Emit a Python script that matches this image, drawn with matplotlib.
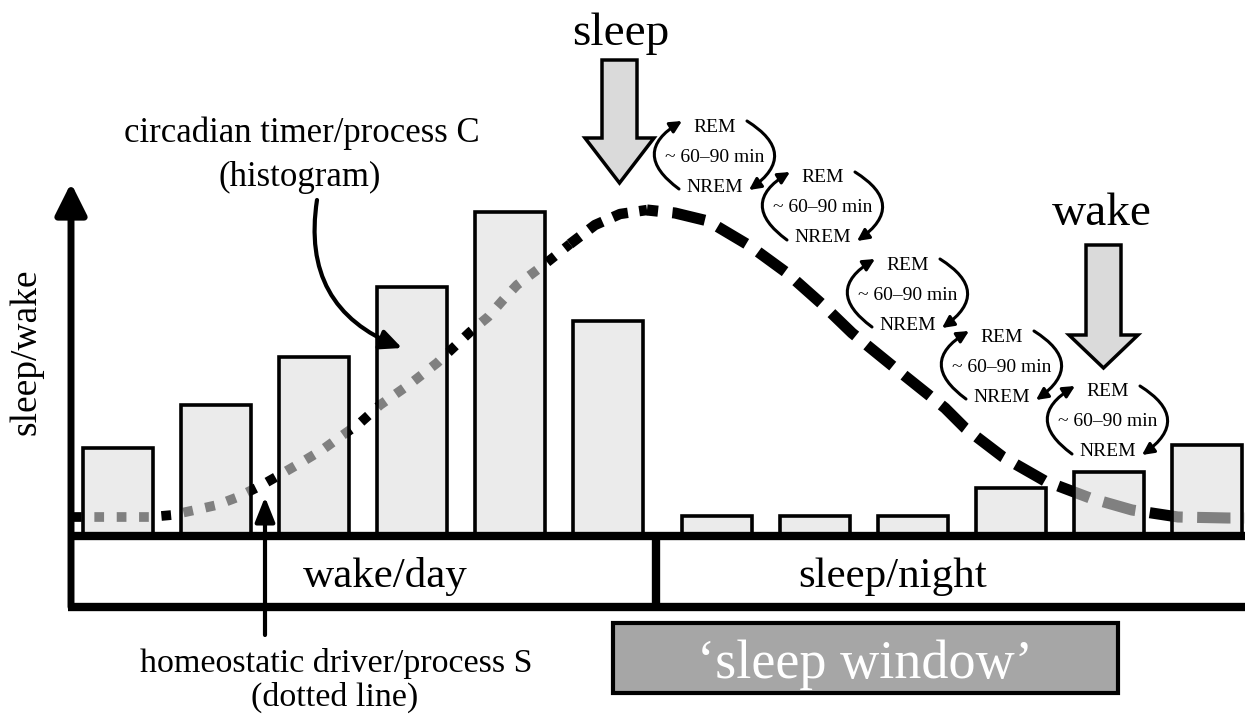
import matplotlib
matplotlib.use('Agg')
import matplotlib.pyplot as plt
from matplotlib.patches import Rectangle, FancyArrow
import numpy as np

plt.rcParams['font.family'] = ['Liberation Serif', 'DejaVu Serif']

# histogram (process C): bar centres and heights above the baseline
bar_x = [117.5, 216, 314, 412, 510, 608, 716.5, 814.5, 912.5, 1010.5, 1108.5, 1206.5]
bar_h = [88, 131, 179, 249, 324, 215, 20, 20, 20, 48, 64, 91]
bar_w = 70

# process S curve
curve_x = [72, 97, 150, 172, 195, 217, 238, 262, 283, 302, 322, 340, 360, 380, 410,
           437, 453, 470, 488, 503, 517, 545, 570, 595, 620, 647, 675, 708, 750, 787,
           823, 852, 900, 945, 965, 1003, 1045, 1090, 1132, 1178, 1228, 1245]
curve_y = [19, 19, 19, 21, 26, 31, 39, 51, 63, 74, 86, 99, 113, 131, 152,
           173, 188, 204, 219, 236, 251, 272, 292, 311, 322, 326, 323, 315, 290, 263,
           231, 203, 164, 128, 108, 79, 55, 38, 26, 19, 18, 18]

# REM/NREM cycle labels (centre of the middle line)
cycle_x = [715, 823, 908, 1002, 1108]
cycle_y = [379, 328, 241, 169, 114]

fig = plt.figure(figsize=(12.45, 7.19), dpi=100)
ax = fig.add_axes([0, 0, 1, 1])
ax.set_xlim(0, 1245)
ax.set_ylim(-183, 536)
ax.axis('off')

cx = np.array(curve_x)
cy = np.array(curve_y)

# dotted / dashed curve, split in three parts
m1 = cx <= 570
m2 = (cx >= 570) & (cx <= 647)
m3 = cx >= 647
ax.plot(cx[m1], cy[m1], color='black', lw=7, linestyle=(0, (1, 1.3)),
        dash_capstyle='butt', zorder=2)
ax.plot(cx[m2], cy[m2], color='black', lw=7.5, linestyle=(0.3, (1.5, 1.1)),
        dash_capstyle='butt', zorder=2)
ax.plot(cx[m3], cy[m3], color='black', lw=8, linestyle=(2.0, (3, 1.3)),
        dash_capstyle='butt', zorder=2)

# translucent bars on top of the curve
ax.bar(bar_x, bar_h, width=bar_w, bottom=0, facecolor=(0.87, 0.87, 0.87, 0.58),
       edgecolor='black', linewidth=2.6, zorder=3)

# y axis with arrow
ax.annotate('', xy=(71, 353), xytext=(71, -71),
            arrowprops=dict(arrowstyle='-|>,head_length=1.9,head_width=0.95',
                            lw=5, color='black', shrinkA=0, shrinkB=0,
                            mutation_scale=10), zorder=6)

# bottom day/night box
ax.plot([68, 1245], [0, 0], color='black', lw=6, zorder=4, solid_capstyle='butt')
ax.plot([68, 1245], [-71, -71], color='black', lw=6, zorder=4, solid_capstyle='butt')
ax.plot([656, 656], [0, -71], color='black', lw=6, zorder=4, solid_capstyle='butt')
ax.text(385, -51, 'wake/day', fontsize=31, ha='center', va='baseline')
ax.text(893, -51, 'sleep/night', fontsize=31, ha='center', va='baseline')

ax.text(26, 184, 'sleep/wake', fontsize=27, rotation=90, ha='center', va='center')

# sleep / wake arrows
for ax_x, top, hl in [(619.5, 476, 45), (1103.5, 291, 33)]:
    ax.add_patch(FancyArrow(ax_x, top, 0, -123, width=35, head_width=69,
                            head_length=hl, length_includes_head=True,
                            facecolor='#dadada', edgecolor='black', lw=2.5, zorder=5))
ax.text(621, 491, 'sleep', fontsize=34, ha='center', va='baseline')
ax.text(1102, 311, 'wake', fontsize=34, ha='center', va='baseline')

# REM / NREM cycles
for x0, y0 in zip(cycle_x, cycle_y):
    ax.text(x0, y0 + 30, 'REM', fontsize=14, ha='center', va='center', zorder=6)
    ax.text(x0, y0, '~ 60\u201390 min', fontsize=14, ha='center', va='center', zorder=6)
    ax.text(x0, y0 - 30, 'NREM', fontsize=14, ha='center', va='center', zorder=6)
    ap = dict(arrowstyle='-|>,head_length=0.7,head_width=0.35', lw=2.2,
              color='black', shrinkA=0, shrinkB=0, mutation_scale=10,
              connectionstyle='arc3,rad=-0.75')
    ax.annotate('', xy=(x0 - 33, y0 + 36), xytext=(x0 - 36, y0 - 32),
                arrowprops=ap, zorder=6)
    ax.annotate('', xy=(x0 + 34, y0 - 33), xytext=(x0 + 32, y0 + 36),
                arrowprops=ap, zorder=6)

# process C annotation
ax.text(302, 394, 'circadian timer/process C', fontsize=25, ha='center', va='baseline')
ax.text(300, 350, '(histogram)', fontsize=25, ha='center', va='baseline')
ax.annotate('', xy=(402, 188), xytext=(317, 336),
            arrowprops=dict(arrowstyle='-|>,head_length=1.3,head_width=0.6', lw=3,
                            color='black', shrinkA=0, shrinkB=0, mutation_scale=10,
                            connectionstyle='arc3,rad=0.4'), zorder=6)

# process S annotation
ax.annotate('', xy=(265, 39), xytext=(265, -99),
            arrowprops=dict(arrowstyle='-|>,head_length=1.5,head_width=0.6', lw=3,
                            color='black', shrinkA=0, shrinkB=0, mutation_scale=10),
            zorder=6)
ax.text(336, -136, 'homeostatic driver/process S', fontsize=24.5, ha='center', va='baseline')
ax.text(335, -170, '(dotted line)', fontsize=24.5, ha='center', va='baseline')

# sleep window box
ax.add_patch(Rectangle((613, -157), 505, 70, facecolor='#a6a6a6', edgecolor='black',
                       lw=3, zorder=4))
ax.text(865, -142, '\u2018sleep window\u2019', fontsize=39, color='white',
        ha='center', va='baseline', zorder=5)

fig.savefig('out.png', dpi=100)
